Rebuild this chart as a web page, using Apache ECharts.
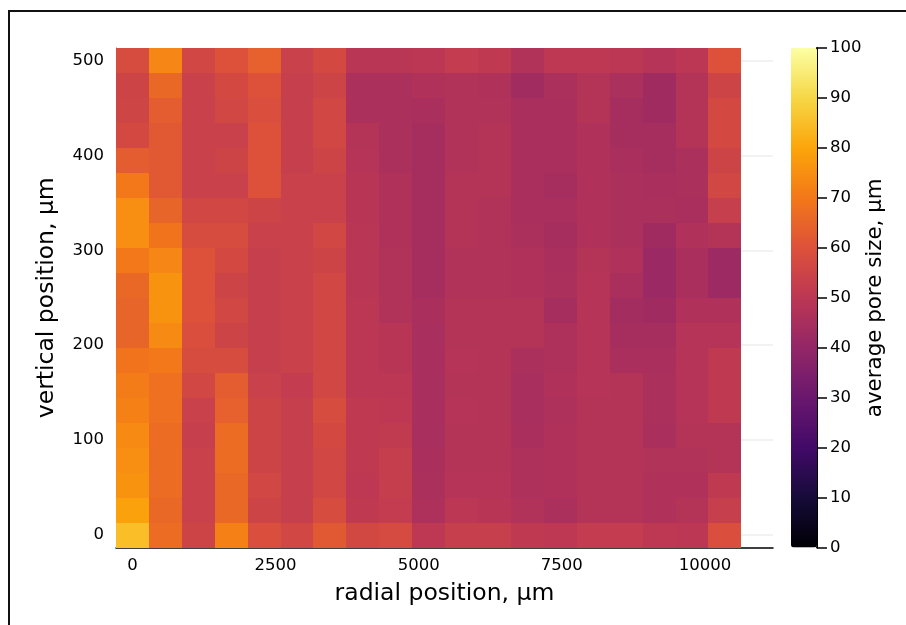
<!DOCTYPE html>
<html>
<head>
<meta charset="utf-8">
<script src="https://cdn.jsdelivr.net/npm/echarts@6/dist/echarts.min.js"></script>
<style>html,body{margin:0;padding:0;background:#fff}#c{width:906px;height:625px}</style>
</head>
<body>
<div id="c"></div>
<script>
const FONT = 'DejaVu Sans';
const xCenters = [0,575,1150,1725,2300,2875,3450,4025,4600,5175,5750,6325,6900,7475,8050,8625,9200,9775,10350];
const yCenters = [500,473.7,447.4,421.1,394.7,368.4,342.1,315.8,289.5,263.2,236.8,210.5,184.2,157.9,131.6,105.3,78.9,52.6,26.3,0];
const xTicks = [0,2500,5000,7500,10000];
const yTicks = [0,100,200,300,400,500];
const infernoStops = ['#000004','#160b39','#420a68','#6a176e','#932667','#bc3754','#dd513a','#f37819','#fca50a','#f6d746','#fcffa4'];

// average pore size per radial column, listed from the top row to the bottom row
const col0  = [58,55,55.5,57,63,70,75,75,70,66,65,65,69,71,72,74,75,76,79,85];
const col1  = [73,66,63,62,62,62,65,69,73,76,76,74,70,68,68,67,67,67,66,67];
const col2  = [56,54,54,54,54,54,56,58,60,60,60,59,58,56,54,53,54,54,54,55];
const col3  = [60,57,56,54,55,54,56,58,57,55,56,55,58,63,64,67,67,66,66,72];
const col4  = [64,60,59,60,60,60,55,54,53,53,53,53,53,54,55,55,55,56,55,59];
const col5  = [54,53,53,53,53,54,54,54,54,54,54,54,54,52,53,53,53,53,53,56];
const col6  = [57,55,56,56,55,54,54,56,55,56,56,56,56,56,58,57,56,56,58,62];
const col7  = [49.5,46,46,48,48.5,49,49,49.5,49.5,49.5,50,50,50,50,51,51,51,50.5,51,56.5];
const col8  = [49.5,46,46,46,46,47,47,47,47.5,47.5,47.5,49,49,50,50.5,51.5,52.5,52.5,52,57.5];
const col9  = [50,47,45.5,44.5,44.5,44.5,44.5,44.5,44.5,44.5,45.5,45,45,45,45,45,45.5,46,46.5,50.5];
const col10 = [52,47.5,47.5,47.5,47.5,48,48,48,47.5,47.5,48,48,48.5,48,48.5,48,48,48.5,50,53];
const col11 = [51,47,47.5,48,48,48,47.5,47.5,47.5,47.5,48,48,48,48,48,48,48,48.5,49,53];
const col12 = [47.5,43.5,45.5,45.5,45.5,45.5,45.5,46,47,47,48,48,46,45,45,45.5,46.5,46.5,47.5,51];
const col13 = [50.5,46,45.5,45.5,45.5,44.5,45.5,44.5,45.5,46,44.5,46.5,46.5,47,46.5,47,47,47,46,50.5];
const col14 = [50.5,48,48,47,47,47,47,47,48,48.5,48.5,48.5,48.5,48.5,48,48,48,48,48,52];
const col15 = [50,46,44.5,44.5,45.5,46,46,46,47,45.5,44,44.5,45.5,48,48,48,48,48,48,52];
const col16 = [48.5,43,43,44.5,44.5,45.5,46,43,42,42,43,44.5,45.5,46,46,45.5,47.5,47,47,50.5];
const col17 = [50,48,48,48,46,46,45.5,47,45.5,45.5,47,48.5,48.5,48.5,48.5,48,47.5,47,48,50];
const col18 = [60,55,57,57,55,56,53,48,42.5,42.5,47,48.5,51,51,51,48,48,51,53,59];
const columns = [col0,col1,col2,col3,col4,col5,col6,col7,col8,col9,col10,col11,col12,col13,col14,col15,col16,col17,col18];

const cellData = [];
columns.forEach((col, i) => col.forEach((v, j) => cellData.push([xCenters[i], yCenters[j], v])));
const halfW = (xCenters[1] - xCenters[0]) / 2;
const halfH = (yCenters[0] - yCenters[1]) / 2;

const chart = echarts.init(document.getElementById('c'), null, {renderer: 'canvas'});
const tickLabel = {color: '#000', fontFamily: FONT, fontSize: 16.5, formatter: v => String(v)};

chart.setOption({
  animation: false,
  backgroundColor: '#fff',
  textStyle: {fontFamily: FONT},
  graphic: [{
    type: 'rect', silent: true, z: -1,
    shape: {x: 9, y: 11, width: 1000, height: 1000},
    style: {fill: 'none', stroke: '#111', lineWidth: 2}
  }],
  grid: [
    {left: 116, top: 48, width: 657, height: 499.5},
    {left: 791, top: 48, width: 26, height: 499.5}
  ],
  xAxis: [{
    type: 'value', gridIndex: 0, min: -halfW, max: 11190,
    name: 'radial position, µm', nameLocation: 'middle', nameGap: 34,
    nameTextStyle: {color: '#000', fontFamily: FONT, fontSize: 23.5},
    axisLine: {show: true, onZero: false, lineStyle: {color: '#000', width: 1.5}},
    axisTick: {show: false, customValues: xTicks},
    axisLabel: {...tickLabel, margin: 10, customValues: xTicks},
    splitLine: {show: false}
  }, {
    type: 'value', gridIndex: 1, min: 0, max: 1, show: false
  }],
  yAxis: [{
    type: 'value', gridIndex: 0, min: -halfH, max: 500 + halfH,
    name: 'vertical position, µm', nameLocation: 'middle', nameGap: 57,
    nameTextStyle: {color: '#000', fontFamily: FONT, fontSize: 23.5},
    axisLine: {show: true, onZero: false, lineStyle: {color: '#777', width: 1}},
    axisTick: {show: false, customValues: yTicks},
    axisLabel: {...tickLabel, margin: 12, padding: [4, 0, 0, 0], customValues: yTicks},
    splitLine: {show: true, lineStyle: {color: '#eeeeee', width: 1.5}}
  }, {
    type: 'value', gridIndex: 1, min: 0, max: 100, interval: 10, position: 'right',
    name: 'average pore size, µm', nameLocation: 'middle', nameGap: 46, nameRotate: 90,
    nameTextStyle: {color: '#000', fontFamily: FONT, fontSize: 21.4},
    axisLine: {show: true, onZero: false, lineStyle: {color: '#000', width: 2}},
    axisTick: {show: true, length: 10, lineStyle: {color: '#000', width: 1.5}},
    axisLabel: {...tickLabel, margin: 13, padding: [3, 0, 0, 0]},
    splitLine: {show: false}
  }],
  visualMap: {
    type: 'continuous', min: 0, max: 100, dimension: 2, seriesIndex: 0,
    left: 791, top: 48, itemWidth: 26, itemHeight: 499.5, padding: 0,
    calculable: false, hoverLink: false,
    inRange: {color: infernoStops}
  },
  series: [{
    type: 'custom', coordinateSystem: 'cartesian2d', xAxisIndex: 0, yAxisIndex: 0,
    data: cellData, encode: {x: 0, y: 1}, z: 3, silent: true,
    renderItem: function (params, api) {
      const a = api.coord([api.value(0) - halfW, api.value(1) + halfH]);
      const b = api.coord([api.value(0) + halfW, api.value(1) - halfH]);
      const x0 = Math.round(a[0]), y0 = Math.round(a[1]);
      const x1 = Math.round(b[0]), y1 = Math.round(b[1]);
      return {
        type: 'rect',
        shape: {x: x0, y: y0, width: x1 - x0, height: y1 - y0},
        style: {fill: api.visual('color')}
      };
    }
  }]
});
</script>
</body>
</html>
